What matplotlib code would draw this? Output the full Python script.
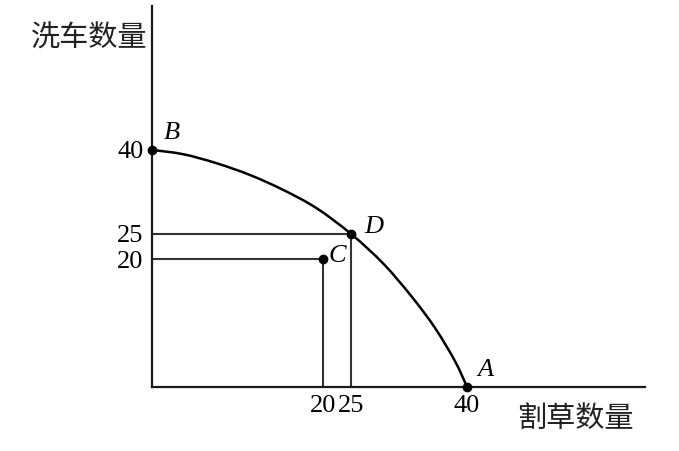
import numpy as np
import matplotlib
matplotlib.use("Agg")
import matplotlib.pyplot as plt
from matplotlib.path import Path
from matplotlib.patches import PathPatch

# ---- data ----
mow_curve = [0, 3.70, 7.60, 11.49, 15.39, 19.30, 25, 29.17, 32.86, 35.87, 38.47, 40]
wash_curve = [40, 39.22, 37.61, 35.52, 32.85, 29.58, 25, 19.34, 14.14, 9.23, 3.99, 0]
point_names = ["B", "C", "D", "A"]
point_mow = [0, 20, 25, 40]
point_wash = [40, 20, 25, 0]
x_ticks = [20, 25, 40]
y_ticks = [20, 25, 40]
x_label = "割草数量"
y_label = "洗车数量"

# schematic (not-to-scale) axes, as in the original drawing
x_knots = [-100, 0, 20, 25, 40, 200]
x_disp = [-100, 0, 21.7, 25.3, 40, 200]
y_knots = [-100, 0, 20, 25, 40, 200]
y_disp = [-100, 0, 21.5, 25.8, 40, 200]

def fx(v): return np.interp(v, x_knots, x_disp)
def ix(v): return np.interp(v, x_disp, x_knots)
def fy(v): return np.interp(v, y_knots, y_disp)
def iy(v): return np.interp(v, y_disp, y_knots)

W, H = 679, 451
fig = plt.figure(figsize=(W / 100, H / 100), dpi=100)
ax = fig.add_axes([151.7 / W, 64.3 / H, (645 - 151.7) / W, (386.7 - 6) / H])
ax.set_xscale("function", functions=(fx, ix))
ax.set_yscale("function", functions=(fy, iy))
ax.set_xlim(0, 62.6)
ax.set_ylim(0, 64.3)

for s in ["top", "right"]:
    ax.spines[s].set_visible(False)
for s in ["left", "bottom"]:
    ax.spines[s].set_linewidth(1.6)
    ax.spines[s].set_color("#1a1a1a")

guide = dict(color="#333333", lw=1.5, solid_capstyle="butt")
ax.plot([0, point_mow[2], point_mow[2]], [point_wash[2], point_wash[2], 0], **guide)
ax.plot([0, point_mow[1], point_mow[1]], [point_wash[1], point_wash[1], 0], **guide)

# smooth (Catmull-Rom -> cubic Bezier) line through the curve points
P = np.column_stack([fx(np.array(mow_curve, float)), fy(np.array(wash_curve, float))])
verts = [P[0]]
codes = [Path.MOVETO]
n = len(P)
for i in range(n - 1):
    p0 = P[i - 1] if i > 0 else P[i]
    p1, p2 = P[i], P[i + 1]
    p3 = P[i + 2] if i + 2 < n else P[i + 1]
    c1 = p1 + (p2 - p0) / 6
    c2 = p2 - (p3 - p1) / 6
    verts += [c1, c2, p2]
    codes += [Path.CURVE4] * 3
verts = np.array(verts)
verts = np.column_stack([ix(verts[:, 0]), iy(verts[:, 1])])
ax.add_patch(PathPatch(Path(verts, codes), facecolor="none", edgecolor="black", lw=1.8))

ax.plot(point_mow, point_wash, "o", color="black", ms=6, clip_on=False, zorder=5)

offsets = {"B": (20, 17), "C": (15, 3), "D": (23, 7), "A": (19, 17)}
for nme, x, y in zip(point_names, point_mow, point_wash):
    ax.annotate(nme, (x, y), xytext=offsets[nme], textcoords="offset pixels",
                ha="center", va="center", fontsize=19, style="italic",
                family="Liberation Serif", annotation_clip=False)

ax.set_xticks(x_ticks)
ax.set_yticks(y_ticks)
ax.set_xticklabels([str(t) for t in x_ticks])
ax.set_yticklabels([str(t) for t in y_ticks])
ax.xaxis.set_minor_locator(matplotlib.ticker.NullLocator())
ax.yaxis.set_minor_locator(matplotlib.ticker.NullLocator())
ax.tick_params(length=0, labelsize=19, pad=6)
for lab in ax.get_xticklabels() + ax.get_yticklabels():
    lab.set_family("Liberation Serif")

fig.text(147 / W, 1 - 39 / H, y_label, ha="right", va="center", fontsize=21,
         family=["Noto Sans CJK SC", "DejaVu Sans"], color="#222222")
fig.text(575 / W, 1 - 419 / H, x_label, ha="center", va="center", fontsize=21,
         family=["Noto Sans CJK SC", "DejaVu Sans"], color="#222222")

fig.savefig("out.png", dpi=100)
